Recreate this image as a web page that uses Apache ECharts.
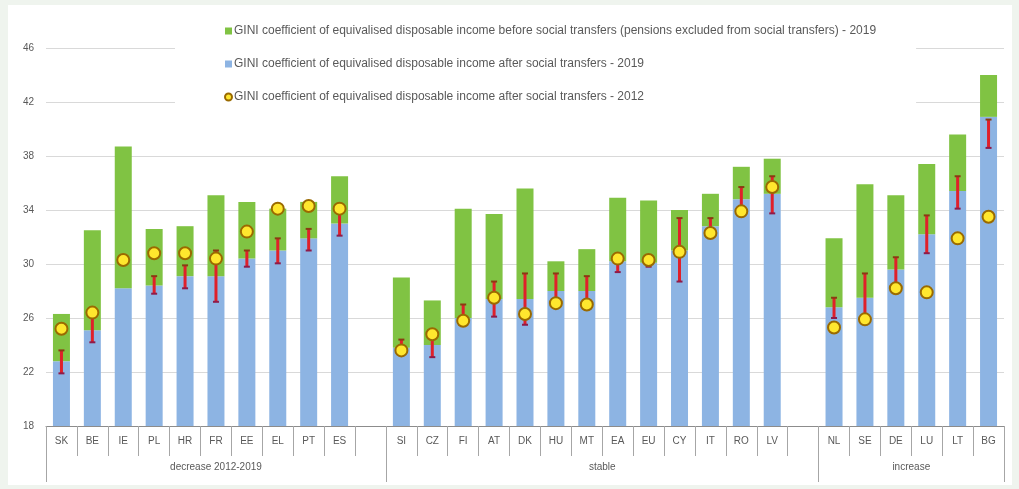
<!DOCTYPE html>
<html>
<head>
<meta charset="utf-8">
<script src="https://cdn.jsdelivr.net/npm/echarts@6/dist/echarts.min.js"></script>
<style>
html,body{margin:0;padding:0;background:#eff4ee;width:1019px;height:489px;overflow:hidden;}
#chart{position:absolute;left:8px;top:5px;width:1004px;height:480px;background:#ffffff;}
</style>
</head>
<body>
<div id="chart"></div>
<script>
// Category slots (blank slots separate the groups)
const categories = ['SK','BE','IE','PL','HR','FR','EE','EL','PT','ES',' ',
  'SI','CZ','FI','AT','DK','HU','MT','EA','EU','CY','IT','RO','LV','  ',
  'NL','SE','DE','LU','LT','BG'];
const groupNames = ['decrease 2012-2019','stable','increase'];
const groupSizes = [11, 14, 6];

// GINI before social transfers (pensions excluded) - 2019 (total bar height)
const before2019 = [26.3,32.5,38.7,32.6,32.8,35.1,34.6,34.1,34.6,36.5,null,
  29.0,27.3,34.1,33.7,35.6,30.2,31.1,34.9,34.7,34.0,35.2,37.2,37.8,null,
  31.9,35.9,35.1,37.4,39.6,44.0];
// GINI after social transfers - 2019
const after2019 = [22.8,25.1,28.2,28.4,29.1,29.1,30.4,31.0,31.9,33.0,null,
  23.8,24.0,26.0,27.4,27.4,28.0,28.0,30.2,30.1,31.0,32.8,34.8,35.2,null,
  26.8,27.5,29.6,32.2,35.4,40.9];
// GINI after social transfers - 2012
const after2012 = [25.2,26.4,30.3,30.8,30.8,30.4,32.4,34.1,34.3,34.1,null,
  23.6,24.8,25.8,27.5,26.3,27.1,27.0,30.4,30.3,30.9,32.3,33.9,35.7,null,
  25.3,25.9,28.2,27.9,31.9,33.5];
// Confidence interval of 2019 after-transfers value
const ciLow = [21.9,24.2,null,27.8,28.2,27.2,29.8,30.05,31.0,32.1,null,
  23.3,23.1,25.6,26.1,25.5,26.8,26.8,29.4,29.8,28.7,32.3,33.9,33.75,null,
  26.0,25.6,28.1,30.8,34.1,38.6];
const ciHigh = [23.6,26.5,null,29.1,29.9,31.0,31.0,31.9,32.6,34.0,null,
  24.4,25.1,27.0,28.7,29.3,29.3,29.1,30.7,30.4,33.4,33.4,35.7,36.5,null,
  27.5,29.3,30.5,33.6,36.5,40.7];

const seriesNames = [
  'GINI coefficient of equivalised disposable income before social transfers (pensions excluded from social transfers) - 2019',
  'GINI coefficient of equivalised disposable income after social transfers - 2019',
  'GINI coefficient of equivalised disposable income after social transfers - 2012'
];

const greenPart = before2019.map((v, i) => v == null ? null : +(v - after2019[i]).toFixed(2));
const ciData = categories.map((c, i) => ciLow[i] == null ? null : [i, ciLow[i], ciHigh[i]]).filter(d => d);

const boundaries = [0];
groupSizes.forEach(s => boundaries.push(boundaries[boundaries.length - 1] + s));
const centers = groupSizes.map((s, i) => boundaries[i] + s / 2);

const chart = echarts.init(document.getElementById('chart'));
const txt = '#595959';
chart.setOption({
  animation: false,
  textStyle: { fontFamily: 'Liberation Sans, Arial, sans-serif' },
  grid: { left: 38, right: 8, top: 43, bottom: 59, containLabel: false },
  legend: {
    orient: 'vertical',
    left: 167, top: 8,
    padding: [12, 40, 8, 49],
    backgroundColor: '#ffffff',
    itemGap: 21,
    itemWidth: 7, itemHeight: 7,
    textStyle: { fontSize: 12, color: txt, padding: [0,0,0,-3] },
    data: [
      { name: seriesNames[0], icon: 'rect' },
      { name: seriesNames[1], icon: 'rect' },
      { name: seriesNames[2], icon: 'circle' }
    ],
    z: 10
  },
  xAxis: [
    {
      type: 'category', data: categories,
      axisLine: { lineStyle: { color: '#8c8c8c', width: 1 } },
      axisTick: { show: true, interval: 0, length: 30, lineStyle: { color: '#a6a6a6' } },
      axisLabel: { interval: 0, margin: 10, fontSize: 10, color: txt },
      splitLine: { show: false }
    },
    {
      type: 'value', min: 0, max: categories.length, position: 'bottom',
      axisLine: { show: false },
      splitLine: { show: false },
      axisTick: { show: true, customValues: boundaries, length: 56, lineStyle: { color: '#a6a6a6' } },
      axisLabel: {
        customValues: centers, margin: 36, fontSize: 10, color: txt,
        formatter: v => groupNames[centers.indexOf(v)] || ''
      }
    }
  ],
  yAxis: {
    type: 'value', min: 18, max: 46, interval: 4,
    axisLine: { show: false }, axisTick: { show: false },
    axisLabel: { fontSize: 10, color: txt, margin: 12 },
    splitLine: { lineStyle: { color: '#d9d9d9' } }
  },
  series: [
    {
      name: seriesNames[1], type: 'bar', stack: 'g', data: after2019,
      barWidth: 17, itemStyle: { color: '#8db4e3' }, z: 2
    },
    {
      name: seriesNames[0], type: 'bar', stack: 'g', data: greenPart,
      barWidth: 17, itemStyle: { color: '#80c343' }, z: 2
    },
    {
      name: 'ci', type: 'custom', data: ciData, z: 4,
      renderItem: function (params, api) {
        const x = api.value(0);
        const lo = api.coord([x, api.value(1)]);
        const hi = api.coord([x, api.value(2)]);
        const w = 3;
        return {
          type: 'group',
          children: [
            { type: 'line', shape: { x1: lo[0], y1: lo[1], x2: hi[0], y2: hi[1] },
              style: { stroke: '#e0202a', lineWidth: 3 } },
            { type: 'line', shape: { x1: lo[0] - w, y1: lo[1], x2: lo[0] + w, y2: lo[1] },
              style: { stroke: '#8e1b4a', lineWidth: 2 } },
            { type: 'line', shape: { x1: hi[0] - w, y1: hi[1], x2: hi[0] + w, y2: hi[1] },
              style: { stroke: '#8a3b12', lineWidth: 2 } }
          ]
        };
      }
    },
    {
      name: seriesNames[2], type: 'scatter', data: after2012,
      symbol: 'circle', symbolSize: 12, z: 5,
      itemStyle: { color: '#ffe72e', borderColor: '#9a6a00', borderWidth: 2, opacity: 1 }
    }
  ]
});
</script>
</body>
</html>
